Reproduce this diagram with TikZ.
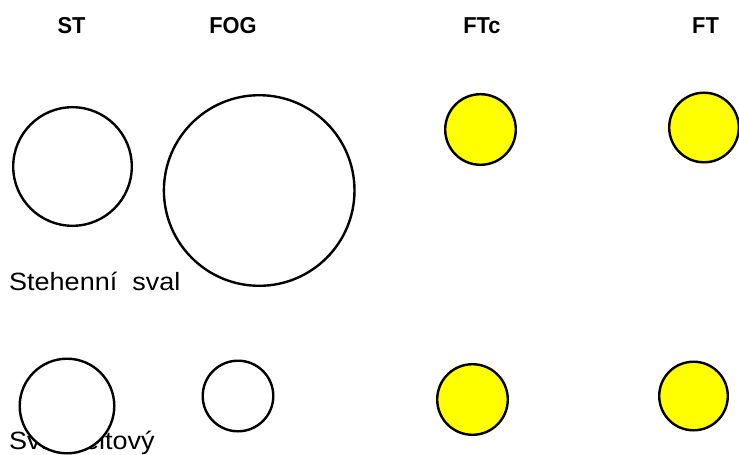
\documentclass[tikz,border=0pt]{standalone}
\usepackage{fontspec}
\setmainfont{Liberation Sans}
\newfontfamily\labelfont[FakeStretch=1.08]{Liberation Sans}
\newfontfamily\headfont[FakeStretch=0.95]{Liberation Sans}
\definecolor{fibreyellow}{RGB}{255,255,0}
\begin{document}
\begin{tikzpicture}[x=1pt,y=-1pt]
\useasboundingbox (0,0) rectangle (739,455);
\tikzset{
 muscle/.style={circle,draw=black,line width=2.4pt,fill=white,inner sep=0pt},
 fiber/.style={circle,draw=black,line width=2.4pt,fill=fibreyellow,inner sep=0pt},
 head/.style={font=\headfont\bfseries\fontsize{23}{23}\selectfont,inner sep=0pt,anchor=base},
 lbl/.style={font=\labelfont\fontsize{25}{25}\selectfont,inner sep=0pt,anchor=base west},
}
% headers
\node[head] (hST)  at (71.5,34) {ST};
\node[head] (hFOG) at (233,34) {FOG};
\node[head] (hFTc) at (482,34) {FTc};
\node[head] (hFT)  at (705.5,34) {FT};
% labels
\node[lbl] (l1) at (9,290) {Stehenní~~sval};
\node[lbl] (l2) at (9,449) {Sval deltový};
% top row
\node[muscle,minimum size=118.6pt] (stTop)  at (72.5,166.5) {};
\node[muscle,minimum size=190.6pt] (fogTop) at (259.2,190.5) {};
\node[fiber,minimum size=70.6pt]   (ftcTop) at (480.5,129.5) {};
\node[fiber,minimum size=69.6pt]   (ftTop)  at (704,127.5) {};
% bottom row
\node[muscle,minimum size=94.6pt]  (stBot)  at (67,406) {};
\node[muscle,minimum size=70.6pt]  (fogBot) at (238,396) {};
\node[fiber,minimum size=70.6pt]   (ftcBot) at (472.5,399.5) {};
\node[fiber,minimum size=68.6pt]   (ftBot)  at (693.5,396) {};
\end{tikzpicture}
\end{document}
